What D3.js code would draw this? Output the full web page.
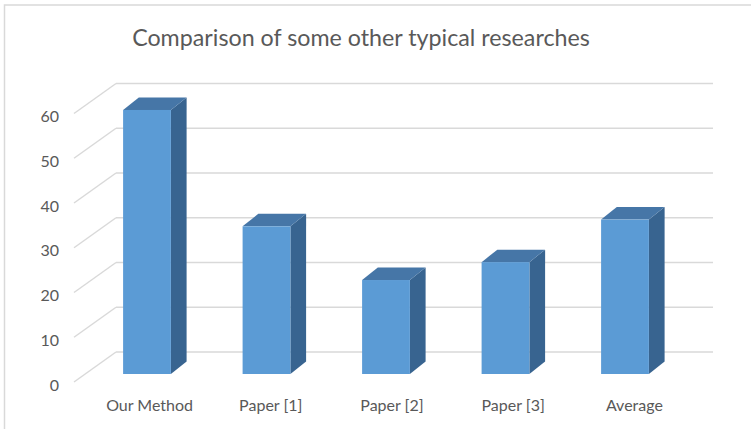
<!DOCTYPE html>
<html><head><meta charset="utf-8">
<script src="https://cdn.jsdelivr.net/npm/d3@7"></script>
<style>html,body{margin:0;padding:0;background:#fff;}svg{display:block;}</style>
</head><body>
<svg id="c" width="751" height="429"></svg>
<script>
const categories = ["Our Method", "Paper [1]", "Paper [2]", "Paper [3]", "Average"];
const values = [59, 33, 21, 25, 34.5];
const yTicks = [0, 10, 20, 30, 40, 50, 60];
const title = "Comparison of some other typical researches";

const svg = d3.select("#c");
const W = 751, H = 429;
const FONT = "Lato, 'Open Sans', sans-serif";
const GRAY = "#595959";

// frame
svg.append("rect").attr("x", 4.5).attr("y", 5).attr("width", 800).attr("height", 500)
  .attr("fill", "#fff").attr("stroke", "#d9d9d9").attr("stroke-width", 1.5);

// geometry
const backLeft = 116, backRight = 713, backBase = 352;
const depthX = -42, depthY = 30; // from back to front
const h = d3.scaleLinear().domain([0, 60]).range([0, 268.5]);
const yBack = v => backBase - h(v);

const grid = svg.append("g");
yTicks.forEach(t => {
  grid.append("line").attr("x1", backLeft).attr("x2", backRight)
    .attr("y1", yBack(t)).attr("y2", yBack(t))
    .attr("stroke", "#d9d9d9").attr("stroke-width", 1.5);
  grid.append("line").attr("x1", backLeft + depthX).attr("y1", yBack(t) + depthY)
    .attr("x2", backLeft).attr("y2", yBack(t))
    .attr("stroke", "#d9d9d9").attr("stroke-width", 1.5);
});

// y labels
svg.append("g").selectAll("text").data(yTicks).join("text")
  .attr("x", 59).attr("y", d => yBack(d) + depthY + 2)
  .attr("text-anchor", "end").attr("dominant-baseline", "central")
  .attr("font-family", FONT).attr("font-size", 15).attr("fill", GRAY)
  .text(d => d);

// bars
const x = d3.scaleBand().domain(categories).range([87.25, 684.75])
  .paddingInner(0.6).paddingOuter(0.3);
const barBase = 374, bdx = 15.7, bdy = -12.5;
const bars = svg.append("g");
categories.forEach((c, i) => {
  const x0 = x(c), bw = x.bandwidth(), top = barBase - h(values[i]);
  const x1 = x0 + bw;
  // side
  bars.append("path").attr("d",
    `M${x1},${top}L${x1 + bdx},${top + bdy}L${x1 + bdx},${barBase + bdy}L${x1},${barBase}Z`)
    .attr("fill", "#386490");
  // top
  bars.append("path").attr("d",
    `M${x0},${top}L${x0 + bdx},${top + bdy}L${x1 + bdx},${top + bdy}L${x1},${top}Z`)
    .attr("fill", "#4676a7");
  // front
  bars.append("rect").attr("x", x0).attr("y", top).attr("width", bw).attr("height", h(values[i]))
    .attr("fill", "#5b9bd5");
});

// category labels
const xl = d3.scaleBand().domain(categories).range([89, 695]);
const catG = svg.append("g").selectAll("text").data(categories).join("text")
  .attr("x", d => xl(d) + xl.bandwidth() / 2).attr("y", 411)
  .attr("text-anchor", "middle")
  .attr("font-family", FONT).attr("font-size", 15).attr("fill", GRAY)
  .text(d => d);
// fit label size so "Our Method" is ~87px wide
const n0 = catG.nodes()[0];
const s = 15 * 87 / n0.getComputedTextLength();
catG.attr("font-size", s);
svg.selectAll("g text").filter(function(){ return yTicks.includes(+this.textContent); })
  .attr("font-size", s);

// title
const t = svg.append("text").attr("x", 361).attr("y", 46).attr("text-anchor", "middle")
  .attr("font-family", FONT).attr("font-size", 22).attr("fill", GRAY).text(title);
const ts = 22 * 458 / t.node().getComputedTextLength();
t.attr("font-size", ts);
</script>
</body></html>
